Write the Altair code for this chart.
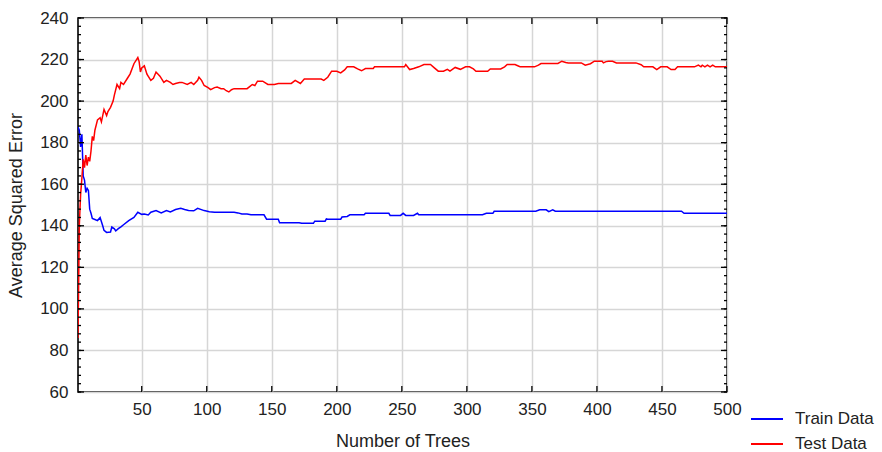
import altair as alt
import pandas as pd

# ---- data ----
train_trees = [1, 2, 3, 4, 5, 6, 7, 8, 9, 10, 11, 12, 14, 16, 18, 20, 21, 23, 26, 27, 29, 30, 32, 34, 36, 40, 44, 47, 50,
               52, 55, 57, 61, 65, 69, 72, 76, 80, 83, 86, 90, 93, 98, 102, 106, 121, 124, 127, 131, 134, 144, 146, 155,
               156, 171, 173, 182, 183, 191, 192, 193, 203, 204, 208, 210, 221, 222, 240, 241, 249, 251, 253, 259, 262,
               263, 312, 315, 320, 321, 353, 356, 361, 363, 366, 368, 465, 467, 500]
train_error = [187.5, 186, 178, 184, 164, 162, 156, 158, 157, 148, 146, 143.5, 143, 142.5, 144, 140, 137.8, 136.8, 137,
               139.4, 138.5, 137.5, 138.6, 139.5, 140.5, 142.5, 144, 146.5, 145.5, 145.7, 145.2, 146.5, 147.3, 146.2,
               147.3, 146.7, 147.8, 148.4, 147.8, 147.4, 147.2, 148.4, 147.3, 146.8, 146.5, 146.5, 146.2, 145.7, 145.7,
               145.3, 145.3, 143.2, 143.2, 141.5, 141.5, 141.2, 141.2, 142.2, 142.2, 143.3, 143.2, 143.2, 144.2, 144.5,
               145.3, 145.3, 146, 146, 145, 145, 146, 145, 145, 146, 145.3, 145.3, 146, 146, 147, 147, 147.7, 147.7,
               146.8, 147.7, 147, 147, 146, 146]

test_trees = [1, 2, 3, 4, 5, 6, 7, 8, 9, 10, 11, 12, 13, 14, 16, 18, 19, 21, 23, 24, 26, 28, 29, 31, 33, 34, 36, 39, 41,
              44, 46, 47, 48, 49, 50, 52, 54, 57, 59, 61, 64, 67, 69, 72, 74, 76, 79, 81, 85, 88, 90, 93, 94, 96, 98,
              101, 103, 106, 108, 111, 113, 115, 117, 119, 121, 126, 131, 133, 135, 137, 139, 143, 147, 152, 155, 165,
              168, 172, 175, 188, 190, 193, 196, 200, 203, 206, 208, 213, 216, 219, 222, 228, 229, 252, 253, 256, 259,
              263, 267, 272, 275, 278, 282, 285, 287, 291, 295, 299, 302, 305, 307, 316, 318, 326, 329, 331, 337, 340,
              341, 352, 355, 357, 370, 373, 376, 378, 388, 391, 395, 398, 404, 405, 407, 409, 412, 415, 430, 434, 436,
              443, 446, 449, 454, 457, 460, 462, 475, 478, 480, 481, 483, 485, 487, 489, 491, 500]
test_error = [86, 140, 155, 163, 172, 168, 174, 169, 173, 171, 176, 183, 181, 186, 191, 192, 190, 196, 193, 195, 197, 200,
              203, 208, 206, 209, 208, 211, 213, 218, 220, 221, 219, 214, 216, 217, 213, 210, 211, 214, 212, 209, 210,
              209, 208, 208.5, 209, 209, 208, 209, 208, 210, 211.5, 210, 207.5, 206.5, 205.5, 206.5, 206.8, 206, 206,
              205, 204.4, 205.5, 206, 206, 206, 207, 208, 207.5, 209.6, 209.6, 208, 208, 208.5, 208.5, 210, 208.5,
              210.6, 210.6, 210, 211.5, 214.4, 214.4, 213.6, 215, 216.5, 216.5, 215.5, 214.6, 215.7, 215.7, 216.5,
              216.5, 217.6, 215.2, 215.7, 216.5, 217.6, 217.6, 216, 214.4, 214.4, 215.3, 214.4, 216.2, 215.3, 216.5,
              216.5, 215.5, 214.4, 214.4, 215.5, 215.5, 216.5, 217.6, 217.6, 216.8, 216.5, 216.5, 217.3, 218.1, 218.1,
              219.2, 218.6, 218.4, 218.4, 217.3, 218, 219.2, 219.2, 218.4, 219, 219.2, 219.2, 218.4, 218.4, 217.5,
              216.5, 216.5, 215.2, 216.5, 216.5, 215.2, 215.2, 216.5, 216.5, 217.3, 216.5, 217.3, 216.5, 217.3, 216.5,
              217.3, 216.5, 216.5]

series_names = ["Train Data", "Test Data"]
x_ticks = [50, 100, 150, 200, 250, 300, 350, 400, 450, 500]
y_ticks = [60, 80, 100, 120, 140, 160, 180, 200, 220, 240]
y_minor = [v for v in range(60, 241, 4)]

train_df = pd.DataFrame({"trees": train_trees, "error": train_error, "series": series_names[0]})
test_df = pd.DataFrame({"trees": test_trees, "error": test_error, "series": series_names[1]})
ymaj_df = pd.DataFrame({"v": y_ticks})
ymin_df = pd.DataFrame({"v": y_minor})
xt_df = pd.DataFrame({"t": x_ticks})

W, H = 649, 374
FONT = "Liberation Sans"
TXT = "#222222"

xscale = alt.Scale(domain=[1, 500], nice=False, zero=False)
yscale = alt.Scale(domain=[60, 240], nice=False, zero=False)

xaxis = alt.Axis(values=x_ticks, title="Number of Trees", grid=True, ticks=False, domain=False,
                 labelFontSize=17, titleFontSize=18, labelPadding=9, titlePadding=15,
                 labelFont=FONT, titleFont=FONT, labelColor=TXT, titleColor=TXT, titleFontWeight="normal",
                 gridColor="#d6d6d6", gridWidth=1.5, labelFlush=False)
yaxis = alt.Axis(values=y_ticks, title="Average Squared Error", grid=True, ticks=False, domain=False,
                 labelFontSize=17, titleFontSize=18, labelPadding=10, titlePadding=14,
                 labelFont=FONT, titleFont=FONT, labelColor=TXT, titleColor=TXT, titleFontWeight="normal",
                 gridColor="#d6d6d6", gridWidth=1.5)

color = alt.Color("series:N", scale=alt.Scale(domain=series_names, range=["#0000ff", "#ff0000"]),
                  legend=alt.Legend(title=None, orient="none", legendX=672, legendY=384, symbolType="stroke",
                                    symbolSize=1024, symbolStrokeWidth=2, labelFontSize=17, labelFont=FONT,
                                    labelColor=TXT, labelOffset=11, rowPadding=-8, padding=0))

train_line = alt.Chart(train_df).mark_line(strokeWidth=1.5, clip=True).encode(
    x=alt.X("trees:Q", scale=xscale, axis=xaxis),
    y=alt.Y("error:Q", scale=yscale, axis=yaxis),
    color=color,
)
test_line = alt.Chart(test_df).mark_line(strokeWidth=1.5, clip=True).encode(
    x=alt.X("trees:Q", scale=xscale),
    y=alt.Y("error:Q", scale=yscale),
    color=color,
)

tick_style = dict(color="black", strokeWidth=1.3)
left_major = alt.Chart(ymaj_df).mark_rule(**tick_style).encode(
    y=alt.Y("v:Q", scale=yscale), x=alt.value(0), x2=alt.value(6))
left_minor = alt.Chart(ymin_df).mark_rule(**tick_style).encode(
    y=alt.Y("v:Q", scale=yscale), x=alt.value(0), x2=alt.value(3))
right_major = alt.Chart(ymaj_df).mark_rule(**tick_style).encode(
    y=alt.Y("v:Q", scale=yscale), x=alt.value(W), x2=alt.value(W - 6))
right_minor = alt.Chart(ymin_df).mark_rule(**tick_style).encode(
    y=alt.Y("v:Q", scale=yscale), x=alt.value(W), x2=alt.value(W - 3))
bottom_ticks = alt.Chart(xt_df).mark_rule(**tick_style).encode(
    x=alt.X("t:Q", scale=xscale), y=alt.value(H), y2=alt.value(H - 6))
top_ticks = alt.Chart(xt_df).mark_rule(**tick_style).encode(
    x=alt.X("t:Q", scale=xscale), y=alt.value(0), y2=alt.value(6))

chart = alt.layer(
    train_line, test_line, left_major, left_minor, right_major, right_minor, bottom_ticks, top_ticks
).properties(
    width=W, height=H,
    autosize=alt.AutoSizeParams(type="none"),
    padding={"left": 78, "top": 18, "right": 882 - 78 - W, "bottom": 452 - 18 - H},
    background="white",
).configure_view(
    stroke="black", strokeWidth=1.6
)

chart.save("out.html", embed_options={"renderer": "svg", "actions": False})
